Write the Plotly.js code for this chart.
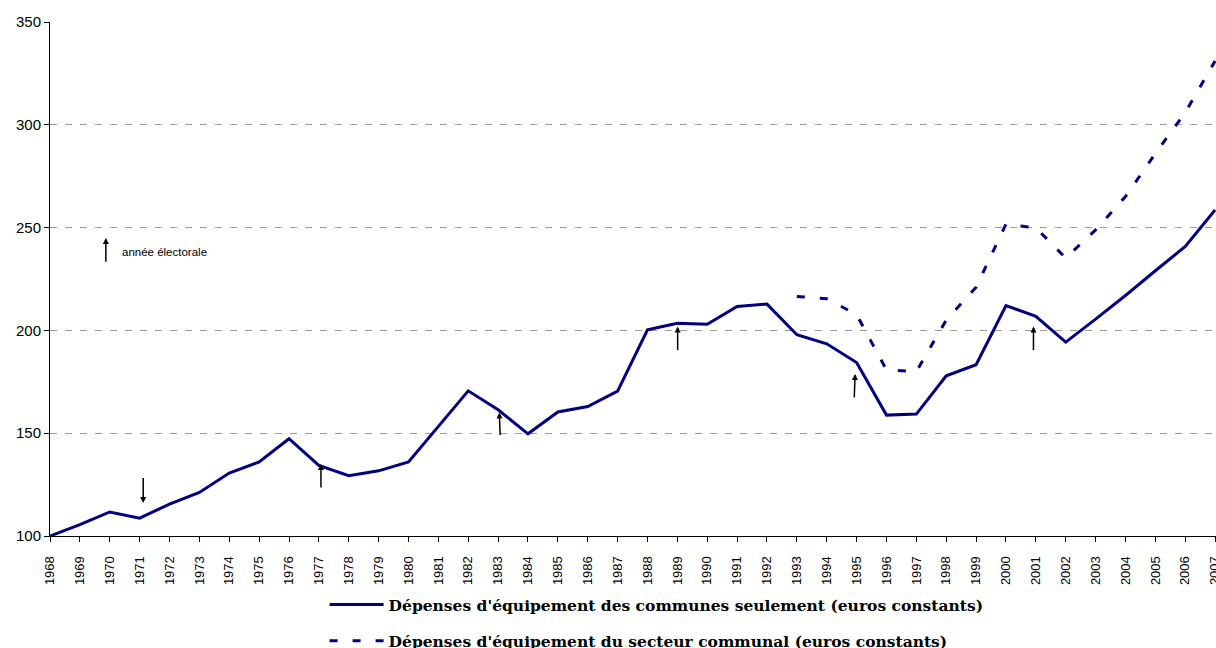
<!DOCTYPE html>
<html>
<head>
<meta charset="utf-8">
<script src="https://cdn.plot.ly/plotly-3.0.1.min.js"></script>
<style>html,body{margin:0;padding:0;background:#fff;}#chart{width:1216px;height:648px;}</style>
</head>
<body>
<div id="chart"></div>
<script>
// Years (categories)
const years = [1968,1969,1970,1971,1972,1973,1974,1975,1976,1977,1978,1979,1980,1981,1982,1983,1984,1985,1986,1987,
               1988,1989,1990,1991,1992,1993,1994,1995,1996,1997,1998,1999,2000,2001,2002,2003,2004,2005,2006,2007];
// Dépenses d'équipement des communes seulement (euros constants), base 100 en 1968
const communes = [100,105.5,111.7,108.7,115.5,121.2,130.6,136,147.3,134.3,129.3,131.7,136,153.5,170.6,161.4,149.7,160.3,163,170.5,
                  200.3,203.5,203,211.6,212.8,197.9,193.5,184.4,158.8,159.3,177.9,183.3,212.1,206.8,194.3,205.5,217,229,240.8,258.6];
// Dépenses d'équipement du secteur communal (euros constants), from 1993
const secteurYears = [1993,1994,1995,1996,1997,1998,1999,2000,2001,2002,2003,2004,2005,2006,2007];
const secteur = [216.5,215.4,207.7,180.8,180,205,221,251.7,249.9,235.2,248.9,265.1,286,306,331];
// Electoral-year arrows: head position (x, y) and tail value
const arrowX     = [1971.12,1977.07,1983.04,1989.01,1994.95,2000.92];
const arrowTailX = [1971.12,1977.07,1983.07,1989.01,1994.92,2000.92];
const arrowHeadY = [116,135,160.1,201.9,178.8,201.9];
const arrowTailY = [129,122.8,148.4,189.7,166.6,189.7];
// Legend arrow for "année électorale"
const keyArrow = {x: 1969.87, head: 244.9, tail: 232.7, textX: 1970.35, textY: 238};
const keyLabel = 'année électorale';
const yTicks = [100,150,200,250,300,350];

const navy = '#000080';
const traces = [
  {x: years, y: communes, type: 'scatter', mode: 'lines',
   name: "Dépenses d'équipement des communes seulement (euros constants)",
   line: {color: navy, width: 3}, legendgroup: 'a'},
  {x: secteurYears, y: secteur, type: 'scatter', mode: 'lines',
   name: "Dépenses d'équipement du secteur communal (euros constants)",
   line: {color: navy, width: 3, dash: '8px,15px'}, legendgroup: 'b'}
];

const annotations = arrowX.map((x, i) => ({
  x: x, y: arrowHeadY[i], ax: arrowTailX[i], ay: arrowTailY[i],
  xref: 'x', yref: 'y', axref: 'x', ayref: 'y',
  text: '', showarrow: true, arrowhead: 2, arrowsize: 0.8, arrowwidth: 1.5,
  arrowcolor: '#000', standoff: 0, startstandoff: 0
}));
annotations.push({
  x: keyArrow.x, y: keyArrow.head, ax: keyArrow.x, ay: keyArrow.tail,
  xref: 'x', yref: 'y', axref: 'x', ayref: 'y',
  text: '', showarrow: true, arrowhead: 2, arrowsize: 0.8, arrowwidth: 1.5,
  arrowcolor: '#000', standoff: 0
});
annotations.push({
  x: keyArrow.textX, y: keyArrow.textY, xref: 'x', yref: 'y',
  text: keyLabel, showarrow: false, xanchor: 'left', yanchor: 'middle',
  font: {family: 'Arial, Liberation Sans, sans-serif', size: 11.5, color: '#000'}
});

const layout = {
  width: 1216, height: 648,
  margin: {l: 50, r: 0, t: 22, b: 112, autoexpand: false},
  paper_bgcolor: '#fff', plot_bgcolor: '#fff',
  showlegend: true,
  legend: {
    x: 0.2355, y: -0.101, xanchor: 'left', yanchor: 'top',
    orientation: 'v', tracegroupgap: 13, itemwidth: 54,
    font: {family: 'DejaVu Serif, serif', size: 15.5, color: '#000', weight: 'bold'},
    bgcolor: 'rgba(0,0,0,0)'
  },
  xaxis: {
    type: 'linear', range: [1968, 2007.03], tickmode: 'array', tickvals: years,
    ticktext: years.map(String), tickangle: -90, ticklabeloverflow: 'allow',
    showgrid: false, zeroline: false, showline: true, linecolor: '#000', linewidth: 1,
    ticks: 'outside', ticklen: 5, tickcolor: '#000', tickwidth: 1, ticklabelstandoff: 9,
    tickfont: {family: 'Arial, Liberation Sans, sans-serif', size: 13, color: '#000'},
    automargin: false, fixedrange: true
  },
  yaxis: {
    range: [100, 350], tickmode: 'array', tickvals: yTicks, ticktext: yTicks.map(String),
    showgrid: true, gridcolor: '#9a9a9a', gridwidth: 1, griddash: '7px,8px',
    zeroline: false, showline: true, linecolor: '#000', linewidth: 1,
    ticks: 'outside', ticklen: 5, tickcolor: '#000', tickwidth: 1,
    tickfont: {family: 'Arial, Liberation Sans, sans-serif', size: 15, color: '#000'},
    automargin: false, fixedrange: true
  },
  annotations: annotations
};

Plotly.newPlot('chart', traces, layout, {displayModeBar: false, staticPlot: true});
</script>
</body>
</html>
